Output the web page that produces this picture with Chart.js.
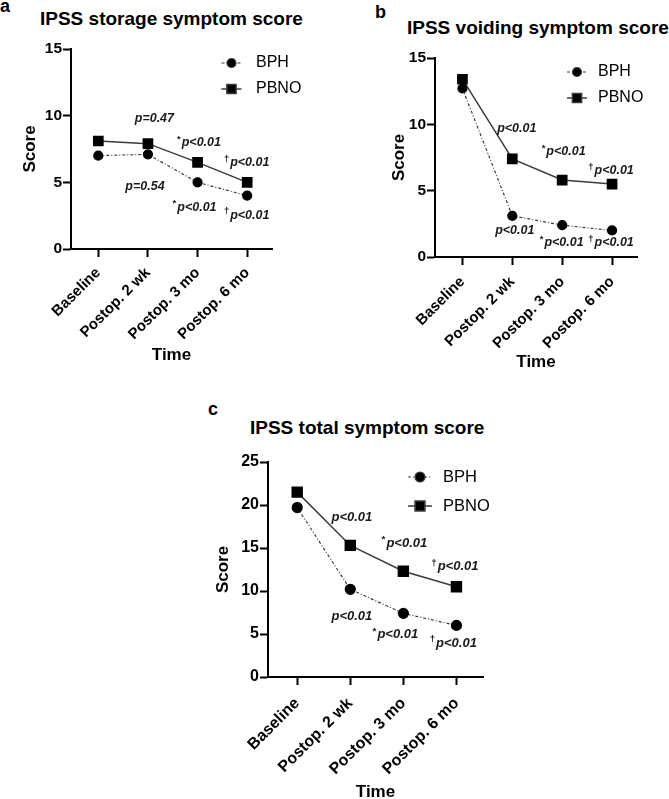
<!DOCTYPE html>
<html lang="en">
<head>
    <meta charset="UTF-8">
    <title>IPSS scores BPH vs PBNO</title>
    <script src="https://cdn.jsdelivr.net/npm/chart.js"></script>
    <style>
        body {
            margin: 0;
            padding: 0;
            background: #fff;
            width: 669px;
            height: 799px;
            position: relative;
            overflow: hidden;
            font-family: "Liberation Sans", Arial, Helvetica, sans-serif;
        }
        canvas { position: absolute; }
        .title {
            position: absolute;
            font-size: 19px;
            line-height: 19px;
            font-weight: bold;
            white-space: nowrap;
            color: #000;
        }
        .letter {
            position: absolute;
            font-size: 18px;
            line-height: 18px;
            font-weight: bold;
            color: #000;
        }
    </style>
</head>
<body>
    <div class="letter" style="left:0px;top:-3px;">a</div>
    <div class="title" style="left:40px;top:9px;">IPSS storage symptom score</div>
    <div class="letter" style="left:375px;top:3px;">b</div>
    <div class="title" style="left:407px;top:18px;">IPSS voiding symptom score</div>
    <div class="letter" style="left:208px;top:400px;">c</div>
    <div class="title" style="left:250px;top:418px;">IPSS total symptom score</div>

    <canvas id="storageChart" width="335" height="375" style="left:0px;top:0px;"></canvas>
    <canvas id="voidingChart" width="334" height="380" style="left:335px;top:0px;"></canvas>
    <canvas id="totalChart" width="400" height="404" style="left:140px;top:395px;"></canvas>

    <script>
        // categories and values
        const timePoints = ['Baseline', 'Postop. 2 wk', 'Postop. 3 mo', 'Postop. 6 mo'];
        const seriesNames = ['BPH', 'PBNO'];

        const storageBPH = [7.0, 7.1, 5.0, 4.0];
        const storagePBNO = [8.1, 7.9, 6.5, 5.0];
        const voidingBPH = [12.7, 3.1, 2.4, 2.0];
        const voidingPBNO = [13.4, 7.4, 5.8, 5.5];
        const totalBPH = [19.7, 10.2, 7.4, 6.0];
        const totalPBNO = [21.5, 15.3, 12.3, 10.5];

        const scoreTicksSmall = [0, 5, 10, 15];
        const scoreTicksTotal = [0, 5, 10, 15, 20, 25];

        // p-value notes: [mark, text, time position, score]
        const storageNotes = [
            ['', 'p=0.47', 1.13, 9.75],
            ['*', 'p<0.01', 2.03, 7.95],
            ['\u2020', 'p<0.01', 2.99, 6.45],
            ['', 'p=0.54', 0.94, 4.65],
            ['*', 'p<0.01', 1.94, 3.1],
            ['\u2020', 'p<0.01', 2.99, 2.5]
        ];
        const voidingNotes = [
            ['', 'p<0.01', 1.09, 9.72],
            ['*', 'p<0.01', 2.03, 7.92],
            ['\u2020', 'p<0.01', 2.98, 6.48],
            ['', 'p<0.01', 1.05, 1.96],
            ['*', 'p<0.01', 1.99, 1.06],
            ['\u2020', 'p<0.01', 2.98, 1.06]
        ];
        const totalNotes = [
            ['', 'p<0.01', 1.03, 18.6],
            ['*', 'p<0.01', 2.02, 15.5],
            ['\u2020', 'p<0.01', 2.97, 12.8],
            ['', 'p<0.01', 1.03, 7.0],
            ['*', 'p<0.01', 1.85, 4.9],
            ['\u2020', 'p<0.01', 2.94, 3.95]
        ];

        const FONT = '"Liberation Sans", Arial, Helvetica, sans-serif';

        // draws the p-value notes at data positions
        const notesPlugin = {
            id: 'notes',
            afterDatasetsDraw(chart, args, opts) {
                const ctx = chart.ctx;
                const xs = chart.scales.x, ys = chart.scales.y;
                ctx.save();
                ctx.fillStyle = '#1a1a1a';
                ctx.textBaseline = 'middle';
                ctx.textAlign = 'left';
                opts.items.forEach(n => {
                    const px = xs.getPixelForValue(n[2]);
                    const py = ys.getPixelForValue(n[3]);
                    ctx.font = 'italic bold ' + opts.size + 'px ' + FONT;
                    const w = ctx.measureText(n[1]).width;
                    ctx.font = 'bold ' + (opts.size * 0.75) + 'px ' + FONT;
                    const mw = n[0] ? ctx.measureText(n[0]).width + 1 : 0;
                    const x0 = px - (w + mw) / 2;
                    if (n[0]) {
                        ctx.fillText(n[0], x0, py - opts.size * 0.3);
                    }
                    ctx.font = 'italic bold ' + opts.size + 'px ' + FONT;
                    ctx.fillText(n[1], x0 + mw, py);
                });
                ctx.restore();
            }
        };

        // legend with a short line sample and the marker, like the figure
        const keyPlugin = {
            id: 'key',
            afterDraw(chart, args, opts) {
                const ctx = chart.ctx;
                const area = chart.chartArea;
                ctx.save();
                chart.data.datasets.forEach((ds, i) => {
                    const cx = area.right + opts.dx;
                    const cy = area.top + opts.dy[i];
                    ctx.strokeStyle = ds.borderColor;
                    ctx.lineWidth = ds.borderWidth;
                    ctx.setLineDash(ds.borderDash || []);
                    ctx.beginPath();
                    ctx.moveTo(cx - opts.half, cy);
                    ctx.lineTo(cx + opts.half, cy);
                    ctx.stroke();
                    ctx.setLineDash([]);
                    Chart.helpers.drawPoint(ctx, {
                        pointStyle: ds.pointStyle,
                        radius: ds.pointRadius,
                        borderWidth: 1
                    }, cx, cy);
                    ctx.fillStyle = '#000';
                    ctx.font = opts.size + 'px ' + FONT;
                    ctx.textBaseline = 'middle';
                    ctx.textAlign = 'left';
                    ctx.fillText(ds.label, area.right + opts.textDx, cy);
                });
                ctx.restore();
            }
        };

        function makeChart(id, bph, pbno, yTicks, notes, cfg) {
            const toPts = arr => arr.map((v, i) => ({ x: i, y: v }));
            return new Chart(document.getElementById(id), {
                type: 'line',
                data: {
                    datasets: [{
                        label: seriesNames[0],
                        data: toPts(bph),
                        borderColor: '#3c3c3c',
                        borderWidth: 1.2,
                        borderDash: [3, 2, 1, 2],
                        pointStyle: 'circle',
                        pointRadius: cfg.dot,
                        pointBackgroundColor: '#000',
                        pointBorderColor: '#000',
                        fill: false,
                        tension: 0
                    }, {
                        label: seriesNames[1],
                        data: toPts(pbno),
                        borderColor: '#3c3c3c',
                        borderWidth: 1.5,
                        pointStyle: 'rect',
                        pointRadius: cfg.box,
                        pointBackgroundColor: '#000',
                        pointBorderColor: '#000',
                        fill: false,
                        tension: 0
                    }]
                },
                options: {
                    responsive: false,
                    devicePixelRatio: 1,
                    animation: false,
                    clip: false,
                    layout: { padding: cfg.padding },
                    plugins: {
                        legend: { display: false },
                        tooltip: { enabled: false },
                        notes: { items: notes, size: cfg.noteSize },
                        key: cfg.key
                    },
                    scales: {
                        x: {
                            type: 'linear',
                            min: -0.55,
                            max: 3.5,
                            afterBuildTicks: s => { s.ticks = timePoints.map((t, i) => ({ value: i })); },
                            afterFit: s => { s.height = cfg.xH; },
                            border: { display: true, color: '#000', width: 2 },
                            grid: { drawOnChartArea: false, drawTicks: true, tickLength: 8, tickWidth: 2, tickColor: '#000' },
                            ticks: {
                                autoSkip: false,
                                minRotation: 45,
                                maxRotation: 45,
                                padding: cfg.xPad,
                                color: '#000',
                                font: { family: FONT, size: cfg.xFont, weight: 'bold' },
                                callback: (v, i) => timePoints[i]
                            },
                            title: {
                                display: true,
                                text: 'Time',
                                color: '#000',
                                font: { family: FONT, size: 17, weight: 'bold', lineHeight: 1 },
                                padding: { top: 0, bottom: cfg.timePad }
                            }
                        },
                        y: {
                            min: 0,
                            max: yTicks[yTicks.length - 1],
                            afterBuildTicks: s => { s.ticks = yTicks.map(v => ({ value: v })); },
                            afterFit: s => { s.width = cfg.yW; },
                            border: { display: true, color: '#000', width: 2 },
                            grid: { drawOnChartArea: false, drawTicks: true, tickLength: 8, tickWidth: 2, tickColor: '#000' },
                            ticks: {
                                padding: 1,
                                color: '#000',
                                font: { family: FONT, size: cfg.yFont, weight: 'bold' }
                            },
                            title: {
                                display: true,
                                text: 'Score',
                                color: '#000',
                                font: { family: FONT, size: 17, weight: 'bold', lineHeight: 1 },
                                padding: { top: cfg.scorePad, bottom: 0 }
                            }
                        }
                    }
                },
                plugins: [notesPlugin, keyPlugin]
            });
        }

        makeChart('storageChart', storageBPH, storagePBNO, scoreTicksSmall, storageNotes, {
            padding: { top: 49, right: 63, left: 0, bottom: 0 },
            yW: 71, xH: 126, scorePad: 21.5, timePad: 11.5, xPad: 7,
            xFont: 15, yFont: 15.5, noteSize: 12.5, dot: 4.5, box: 6.5,
            key: { dx: -40.5, textDx: -16, half: 10, dy: [14, 40], size: 16 }
        });

        makeChart('voidingChart', voidingBPH, voidingPBNO, scoreTicksSmall, voidingNotes, {
            padding: { top: 58, right: 32, left: 0, bottom: 0 },
            yW: 100, xH: 123, scorePad: 55.5, timePad: 9.5, xPad: 8,
            xFont: 15, yFont: 15.5, noteSize: 12.5, dot: 4.5, box: 6.5,
            key: { dx: -60, textDx: -39, half: 10, dy: [14, 40], size: 16 }
        });

        makeChart('totalChart', totalBPH, totalPBNO, scoreTicksTotal, totalNotes, {
            padding: { top: 67, right: 57, left: 0, bottom: 0 },
            yW: 128, xH: 122, scorePad: 74.5, timePad: -1.5, xPad: 9,
            xFont: 16, yFont: 16, noteSize: 13, dot: 5, box: 7,
            key: { dx: -63, textDx: -40, half: 12, dy: [15, 44], size: 16.5 }
        });
    </script>
</body>
</html>
